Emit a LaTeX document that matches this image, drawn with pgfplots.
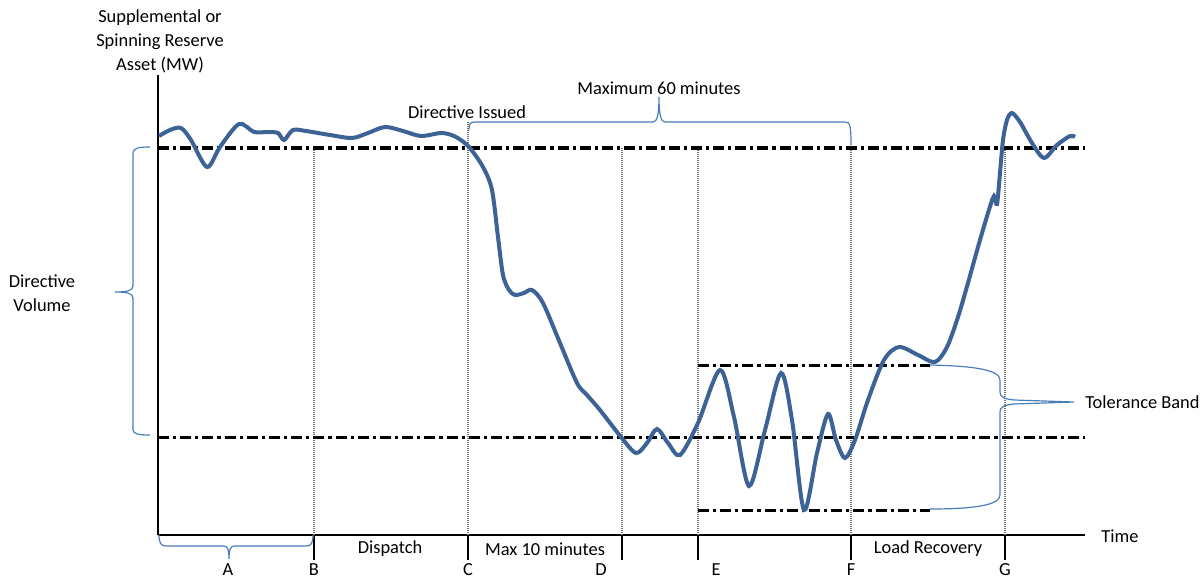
\documentclass[border=0pt]{standalone}
\usepackage{pgfplots}
\pgfplotsset{compat=1.18}
\usepackage{fontspec}
\setmainfont{Carlito}
\definecolor{curveblue}{HTML}{3C6296}
\definecolor{braceblue}{HTML}{4A7EBB}
\tikzset{
  dd/.style={black, line width=1.5pt, dash pattern=on 5.5pt off 2pt on 1.6pt off 2pt},
  vl/.style={black!55, line width=1pt, dash pattern=on 0.7pt off 0.3pt},
  br/.style={braceblue, line width=0.6pt},
}
\begin{document}
\begin{tikzpicture}[font=\fontsize{9.2}{12}\selectfont]
\begin{axis}[
  scale only axis, width=463.5pt, height=230pt,
  xmin=158, xmax=1085, ymin=0, ymax=460,
  axis x line=bottom, axis y line=left,
  axis line style={-, line width=1.3pt, black},
  xtick=\empty, ytick=\empty,
  clip=false,
]
% bounding box corners
\coordinate (bbl) at (axis cs:0,-45);
\coordinate (bbr) at (axis cs:1201,535);

% vertical grey lines
\addplot[vl] coordinates {(314,0) (314,387)};
\addplot[vl] coordinates {(468,0) (468,413)};
\addplot[vl] coordinates {(622,0) (622,387)};
\addplot[vl] coordinates {(698,0) (698,387)};
\addplot[vl] coordinates {(851,0) (851,390)};
\addplot[vl] coordinates {(1005,0) (1005,387)};

% tick marks below axis
\pgfplotsinvokeforeach{314,468,622,698,851,1005}{
  \addplot[black, line width=1pt] coordinates {(#1,0) (#1,-25)};
}

% dash-dot reference lines
\addplot[dd] coordinates {(158,387) (1085,387)};
\addplot[dd] coordinates {(158,98) (1085,98)};
\addplot[dd] coordinates {(698,170) (930,170)};
\addplot[dd] coordinates {(698,25) (930,25)};

% main curve
\addplot[curveblue, line width=2pt, smooth, tension=0.5] coordinates {
(159,399) (170,405) (181,407) (191,395) (207,368) (220,388) (239,411)
(254,403) (268,403) (278,402) (284,395) (293,405) (306,404) (330,400)
(352,397) (368,402) (385,408) (403,404) (421,399) (442,402) (456,398)
(469,388) (483,368) (492,345) (498,298) (503,260) (509,245) (515,240)
(524,242) (532,245) (543,232) (560,192) (577,152) (587,140) (600,125)
(621,98) (636,82) (647,92) (657,106) (668,92) (680,80) (698,112)
(720,165) (734,118) (749,49) (765,105) (781,162) (792,115) (804,25)
(817,82) (828,121) (836,95) (845,77) (855,95) (868,135) (884,175)
(899,188) (918,180) (935,173) (947,188) (958,218) (968,252) (978,288)
(988,322) (994,339) (997,331) (1000,362) (1003,395) (1007,415) (1012,422)
(1020,413) (1032,392) (1044,377) (1057,390) (1070,399) (1075,398)
};

% braces
% left: Directive Volume
\draw[br] (150,388) .. controls (139,388) and (133,387) .. (133,382) -- (133,249)
  .. controls (133,244) and (126,243) .. (115,243)
  .. controls (126,243) and (133,242) .. (133,237) -- (133,105)
  .. controls (133,101) and (139,100) .. (150,100);
% bottom: A
\draw[br] (159,0) .. controls (159,-8) and (161,-11) .. (166,-11) -- (224,-11)
  .. controls (227,-11) and (229,-14) .. (229,-24)
  .. controls (229,-14) and (231,-11) .. (234,-11) -- (307,-11)
  .. controls (311,-11) and (313,-8) .. (313,0);
% top: Maximum 60 minutes
\draw[br] (469,405) .. controls (469,411) and (470,413) .. (475,413) -- (653,413)
  .. controls (657,413) and (659,420) .. (659,438)
  .. controls (659,420) and (661,413) .. (665,413) -- (845,413)
  .. controls (850,413) and (851,410) .. (851,390);
% right: Tolerance Band
\draw[br] (930,170) .. controls (975,169) and (1000,165) .. (1000,155) -- (1000,143)
  .. controls (1000,138) and (1004,136) .. (1014,135) -- (1074,133)
  -- (1014,131) .. controls (1004,130) and (1000,128) .. (1000,123) -- (1000,40)
  .. controls (1000,30) and (975,26) .. (930,26);

% texts
\node[align=center, inner sep=0pt] at (160,494) {Supplemental or\\Spinning Reserve\\Asset (MW)};
\node[inner sep=0pt] at (467,423) {Directive Issued};
\node[inner sep=0pt] at (659,447) {Maximum 60 minutes};
\node[align=center, inner sep=0pt] at (42,242) {Directive\\Volume};
\node[anchor=west, inner sep=0pt] at (1085,133) {Tolerance Band};
\node[inner sep=0pt] at (1120,-1) {Time};
\node[inner sep=0pt] at (390,-14) {Dispatch};
\node[inner sep=0pt] at (545,-14) {Max 10 minutes};
\node[inner sep=0pt] at (928,-14) {Load Recovery};
\node[inner sep=0pt] at (228,-35) {A};
\node[inner sep=0pt] at (314,-35) {B};
\node[inner sep=0pt] at (468,-35) {C};
\node[inner sep=0pt] at (601,-35) {D};
\node[inner sep=0pt] at (716,-35) {E};
\node[inner sep=0pt] at (851,-35) {F};
\node[inner sep=0pt] at (1005,-35) {G};
\end{axis}
\pgfresetboundingbox
\path (bbl) rectangle (bbr);
\end{tikzpicture}
\end{document}
